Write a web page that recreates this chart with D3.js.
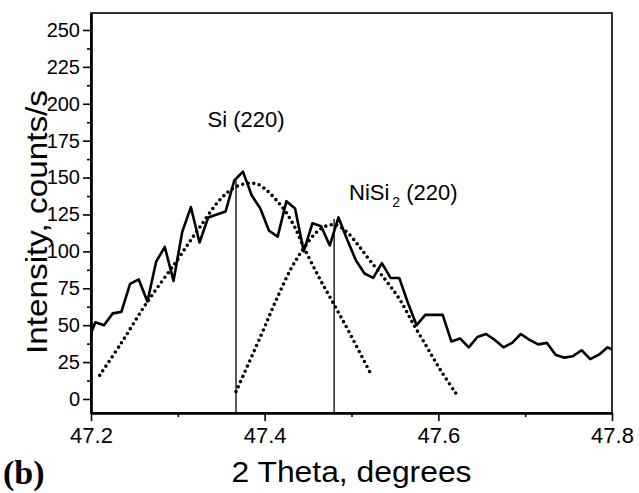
<!DOCTYPE html>
<html>
<head>
<meta charset="utf-8">
<script src="https://cdn.jsdelivr.net/npm/d3@7"></script>
<style>
  body { margin: 0; background: #fff; }
  svg { display: block; font-family: "Liberation Sans", Arial, sans-serif; }
</style>
</head>
<body>
<div id="chart"></div>
<script>
// measured XRD scan, 2 theta (degrees) vs intensity (counts/s)
const theta = [47.195, 47.205, 47.215, 47.225, 47.235, 47.245, 47.255, 47.265, 47.275, 47.285,
  47.295, 47.305, 47.315, 47.325, 47.335, 47.345, 47.355, 47.365, 47.375, 47.385,
  47.395, 47.405, 47.415, 47.425, 47.435, 47.445, 47.455, 47.465, 47.475, 47.485,
  47.495, 47.505, 47.515, 47.525, 47.535, 47.545, 47.555, 47.565, 47.575, 47.585,
  47.595, 47.605, 47.615, 47.625, 47.635, 47.645, 47.655, 47.665, 47.675, 47.685,
  47.695, 47.705, 47.715, 47.725, 47.735, 47.745, 47.755, 47.765, 47.775, 47.785,
  47.795, 47.805];
const counts = [37, 52, 50, 58, 59, 78, 81, 66, 93, 103,
  80, 113, 130, 106, 123, 125, 127, 148, 154, 138,
  129, 114, 110, 134, 129, 100, 119, 117, 104, 123,
  108, 94, 85, 82, 92, 82, 82, 65, 50, 57,
  57, 57, 39, 41, 35, 42, 44, 40, 35, 38,
  44, 40, 37, 38, 30, 28, 29, 33, 27, 30,
  35, 32];

// dotted fit curves
const siFitTheta = [47.21, 47.235, 47.264, 47.298, 47.323, 47.35, 47.366, 47.38, 47.392, 47.403,
  47.413, 47.424, 47.435, 47.445, 47.462, 47.479, 47.498, 47.523];
const siFitCounts = [16, 38, 65, 93, 114.5, 136, 143.5, 146, 145.5, 141,
  135, 127, 116, 103, 83, 65, 44.5, 16];
const niFitTheta = [47.367, 47.395, 47.414, 47.431, 47.445, 47.458, 47.47, 47.482, 47.495, 47.508,
  47.521, 47.54, 47.556, 47.571, 47.587, 47.602, 47.62];
const niFitCounts = [5, 42, 68, 89, 102, 112, 117, 118, 113, 104,
  94, 80, 67, 51, 35, 20, 4];

// peak markers
const peaks = [
  { name: "Si", theta: 47.367, top: 148 },
  { name: "NiSi2", theta: 47.48, top: 122 }
];

const xMajor = [47.2, 47.4, 47.6, 47.8];
const xMinor = [47.3, 47.5, 47.7];
const yMajor = [0, 25, 50, 75, 100, 125, 150, 175, 200, 225, 250];
const yMinor = [12.5, 37.5, 62.5, 87.5, 112.5, 137.5, 162.5, 187.5, 212.5, 237.5];

const width = 639, height = 493;
const margin = { left: 91, right: 27, top: 13, bottom: 80 };

const svg = d3.select("#chart").append("svg")
  .attr("width", width)
  .attr("height", height);

const x = d3.scaleLinear().domain([47.2, 47.8]).range([margin.left, width - margin.right]);
const y = d3.scaleLinear().domain([-9.5, 261.5]).range([height - margin.bottom, margin.top]);

svg.append("clipPath").attr("id", "plotClip")
  .append("rect")
  .attr("x", x(47.2)).attr("y", y(261.5))
  .attr("width", x(47.8) - x(47.2))
  .attr("height", y(-9.5) - y(261.5));

const plot = svg.append("g").attr("clip-path", "url(#plotClip)");

// peak position lines
plot.selectAll("line.peak")
  .data(peaks)
  .join("line")
  .attr("class", "peak")
  .attr("x1", d => x(d.theta)).attr("x2", d => x(d.theta))
  .attr("y1", d => y(d.top)).attr("y2", y(-9.5))
  .attr("stroke", "#000")
  .attr("stroke-width", 1.3);

// dotted fits
const fitLine = d3.line().x(d => x(d[0])).y(d => y(d[1])).curve(d3.curveCatmullRom);
[[siFitTheta, siFitCounts], [niFitTheta, niFitCounts]].forEach(([tx, cy]) => {
  plot.append("path")
    .datum(tx.map((t, i) => [t, cy[i]]))
    .attr("d", fitLine)
    .attr("fill", "none")
    .attr("stroke", "#000")
    .attr("stroke-width", 3.6)
    .attr("stroke-linecap", "round")
    .attr("stroke-dasharray", "0,5.6");
});

// measured data
plot.append("path")
  .datum(theta.map((t, i) => [t, counts[i]]))
  .attr("d", d3.line().x(d => x(d[0])).y(d => y(d[1])))
  .attr("fill", "none")
  .attr("stroke", "#000")
  .attr("stroke-width", 2.6)
  .attr("stroke-linejoin", "round");

// frame
svg.append("rect")
  .attr("x", x(47.2)).attr("y", y(261.5))
  .attr("width", x(47.8) - x(47.2))
  .attr("height", y(-9.5) - y(261.5))
  .attr("fill", "none")
  .attr("stroke", "#000")
  .attr("stroke-width", 1.6);

// y axis
const yAxisG = svg.append("g").attr("transform", `translate(${x(47.2)},0)`);
yAxisG.call(d3.axisLeft(y).tickValues(yMajor).tickSize(8).tickSizeOuter(0).tickPadding(3));
yAxisG.append("g").call(d3.axisLeft(y).tickValues(yMinor).tickSize(4).tickSizeOuter(0).tickFormat(""));
yAxisG.selectAll("path.domain").attr("stroke-width", 2.2);
yAxisG.selectAll(".tick line").attr("stroke-width", 1.6);
yAxisG.selectAll(".tick text")
  .attr("font-size", "20px")
  .attr("font-family", "Liberation Sans, Arial, sans-serif")
  .attr("fill", "#000");

// x axis
const xAxisG = svg.append("g").attr("transform", `translate(0,${y(-9.5)})`);
xAxisG.call(d3.axisBottom(x).tickValues(xMajor).tickSize(8).tickSizeOuter(0).tickPadding(6)
  .tickFormat(d3.format(".1f")));
xAxisG.append("g").call(d3.axisBottom(x).tickValues(xMinor).tickSize(4).tickSizeOuter(0).tickFormat(""));
xAxisG.selectAll("path.domain").attr("stroke-width", 2.2);
xAxisG.selectAll(".tick line").attr("stroke-width", 1.6);
xAxisG.selectAll(".tick text")
  .attr("font-size", "22px")
  .attr("font-family", "Liberation Sans, Arial, sans-serif")
  .attr("fill", "#000");

// axis titles
svg.append("text")
  .text("2 Theta, degrees")
  .attr("x", (x(47.2) + x(47.8)) / 2)
  .attr("y", 482)
  .attr("text-anchor", "middle")
  .attr("font-size", "29px")
  .attr("textLength", 240)
  .attr("lengthAdjust", "spacingAndGlyphs");

svg.append("text")
  .text("Intensity, counts/s")
  .attr("transform", `translate(47, 222) rotate(-90)`)
  .attr("text-anchor", "middle")
  .attr("font-size", "29px")
  .attr("textLength", 264)
  .attr("lengthAdjust", "spacingAndGlyphs");

svg.append("text")
  .text("(b)")
  .attr("x", 3)
  .attr("y", 484)
  .attr("font-family", "Liberation Serif, Times New Roman, serif")
  .attr("font-weight", "bold")
  .attr("font-size", "34px");

// peak labels
svg.append("text")
  .text("Si (220)")
  .attr("x", 246)
  .attr("y", 127)
  .attr("text-anchor", "middle")
  .attr("font-size", "22px");

const niLabel = svg.append("text")
  .attr("x", 349)
  .attr("y", 200)
  .attr("font-size", "22px");
niLabel.append("tspan").text("NiSi");
niLabel.append("tspan").text("2").attr("dx", 3).attr("dy", 7).attr("font-size", "14px");
niLabel.append("tspan").text(" (220)").attr("dy", -7);
</script>
</body>
</html>
